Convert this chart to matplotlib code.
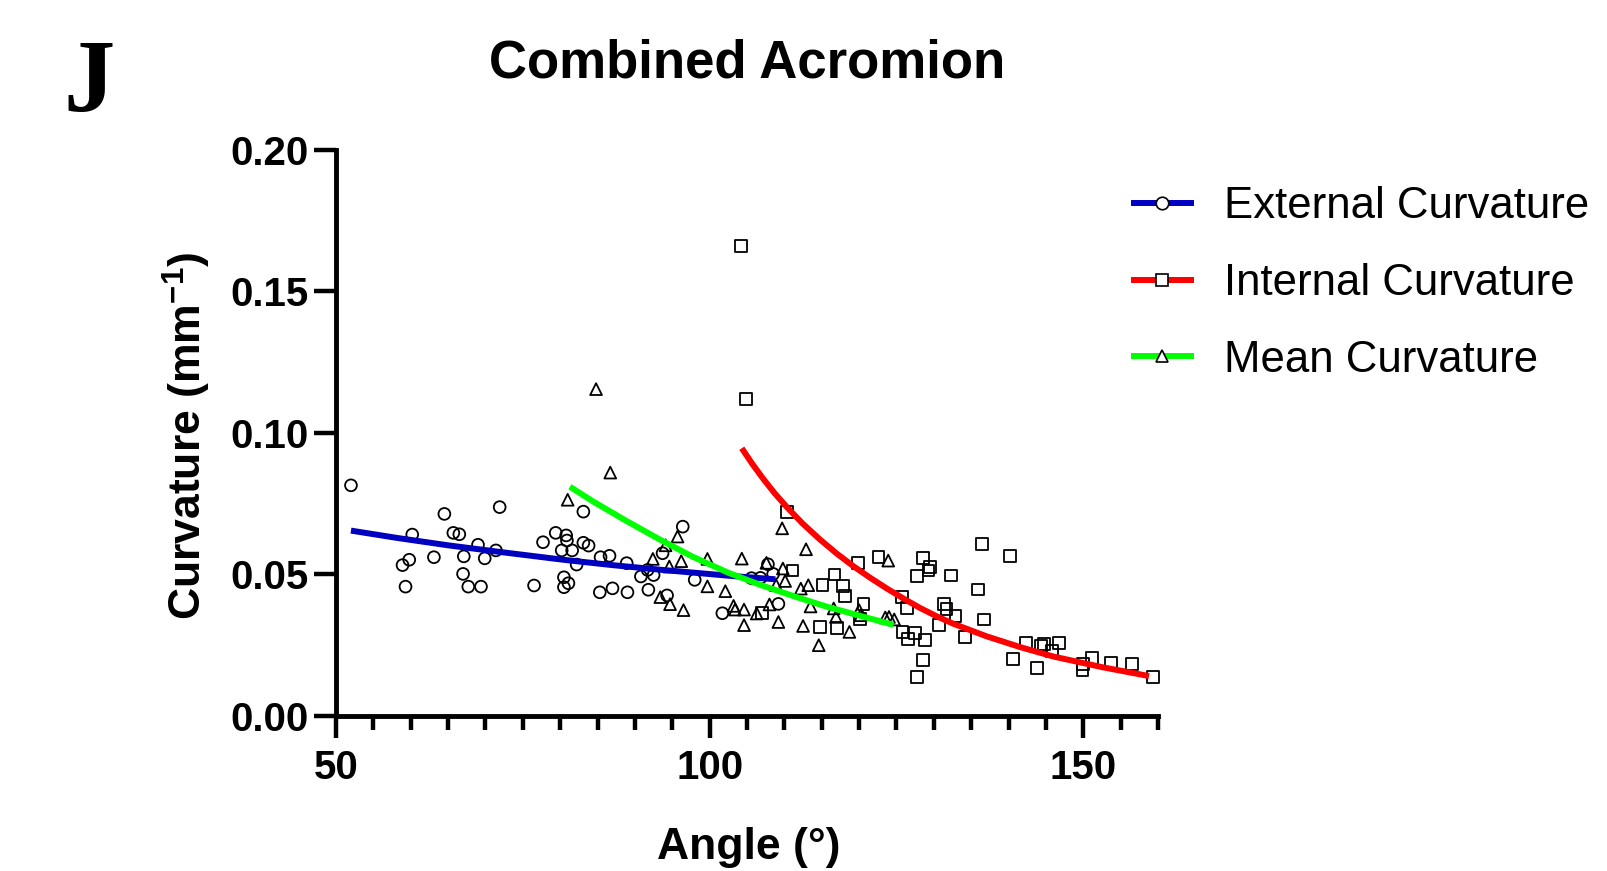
import numpy as np
import matplotlib
matplotlib.use('Agg')
import matplotlib.pyplot as plt
from matplotlib.lines import Line2D
from matplotlib.ticker import MultipleLocator

plt.rcParams['font.family'] = ['Liberation Sans', 'DejaVu Sans']
plt.rcParams['mathtext.fontset'] = 'custom'
plt.rcParams['mathtext.rm'] = 'Liberation Sans:bold'
plt.rcParams['mathtext.default'] = 'rm'

# external curvature (circles)
ext_x = [52.0, 58.9, 59.3, 59.8, 60.2, 63.1, 64.5, 65.7, 66.5, 67.0, 67.1, 67.7,
         69.0, 69.4, 69.9, 71.4, 71.9, 76.5, 77.7, 79.4, 80.2, 80.5, 80.5, 80.8,
         80.9, 81.1, 81.6, 82.2, 83.1, 83.1, 83.8, 85.3, 85.4, 86.6, 87.0, 88.9,
         89.0, 90.8, 91.7, 91.8, 92.5, 93.7, 94.3, 96.4, 98.0, 101.7, 105.6,
         106.8, 107.8, 108.5, 109.2]
ext_y = [0.0815, 0.0533, 0.0457, 0.0552, 0.0641, 0.0561, 0.0714, 0.0647, 0.0642,
         0.0502, 0.0564, 0.0457, 0.0605, 0.0457, 0.0557, 0.0585, 0.0738, 0.0461,
         0.0614, 0.0647, 0.0585, 0.0490, 0.0455, 0.0638, 0.0620, 0.0469, 0.0585,
         0.0535, 0.0722, 0.0612, 0.0602, 0.0437, 0.0561, 0.0566, 0.0451, 0.0540,
         0.0437, 0.0493, 0.0516, 0.0446, 0.0498, 0.0575, 0.0426, 0.0669, 0.0481,
         0.0363, 0.0487, 0.0488, 0.0536, 0.0502, 0.0396]

# internal curvature (squares)
int_x = [104.2, 104.9, 107.0, 110.3, 111.1, 114.8, 115.1, 116.7, 117.0, 117.8,
         118.1, 119.9, 120.1, 120.6, 122.6, 125.7, 126.4, 125.8, 126.5, 127.5,
         128.8, 128.5, 127.8, 127.7, 128.5, 129.3, 129.5, 132.3, 130.7, 131.4,
         131.7, 132.9, 134.2, 135.9, 136.4, 136.7, 140.2, 140.6, 142.3, 143.8,
         144.3, 144.7, 145.8, 146.8, 149.9, 150.0, 151.2, 153.7, 156.5, 159.3]
int_y = [0.1662, 0.1119, 0.0363, 0.0722, 0.0514, 0.0314, 0.0464, 0.0500, 0.0310,
         0.0458, 0.0423, 0.0540, 0.0343, 0.0396, 0.0561, 0.0420, 0.0382, 0.0297,
         0.0271, 0.0294, 0.0268, 0.0199, 0.0139, 0.0494, 0.0557, 0.0514, 0.0526,
         0.0496, 0.0322, 0.0395, 0.0379, 0.0352, 0.0279, 0.0447, 0.0609, 0.0341,
         0.0564, 0.0200, 0.0259, 0.0170, 0.0246, 0.0255, 0.0229, 0.0258, 0.0162,
         0.0185, 0.0205, 0.0186, 0.0184, 0.0139]

# mean curvature (triangles)
mean_x = [81.0, 84.8, 86.7, 92.4, 93.4, 94.1, 94.6, 94.7, 95.7, 96.2, 96.5, 99.7,
          99.7, 102.1, 103.2, 103.4, 104.3, 104.6, 104.6, 106.3, 107.6, 108.0,
          108.9, 109.2, 109.7, 109.8, 110.1, 112.2, 112.5, 112.9, 113.2, 113.5,
          114.6, 116.6, 116.9, 118.7, 120.0, 120.2, 123.5, 123.9, 124.0, 124.7]
mean_y = [0.0764, 0.1155, 0.0860, 0.0555, 0.0420, 0.0603, 0.0528, 0.0395, 0.0634,
          0.0547, 0.0374, 0.0555, 0.0458, 0.0441, 0.0389, 0.0376, 0.0556, 0.0376,
          0.0321, 0.0362, 0.0541, 0.0394, 0.0462, 0.0332, 0.0663, 0.0521, 0.0477,
          0.0450, 0.0318, 0.0589, 0.0462, 0.0387, 0.0250, 0.0380, 0.0350, 0.0297,
          0.0374, 0.0356, 0.0348, 0.0549, 0.0350, 0.0341]

# fitted curves
ext_fit_x = [52.0, 58.2, 65.0, 71.5, 80.4, 87.0, 93.7, 102.8, 108.8]
ext_fit_y = [0.0655, 0.0629, 0.0603, 0.0581, 0.0552, 0.0533, 0.0516, 0.0495, 0.0483]
int_fit_x = [104.3, 105.7, 107.2, 108.7, 110.3, 112.4, 114.7, 117.0, 119.3, 121.5,
             123.8, 126.0, 128.2, 130.4, 132.6, 137.0, 141.6, 146.0, 152.6, 158.8]
int_fit_y = [0.0946, 0.0891, 0.0837, 0.0787, 0.0739, 0.0681, 0.0625, 0.0574,
             0.0528, 0.0488, 0.0449, 0.0414, 0.0381, 0.0352, 0.0326, 0.0282,
             0.0243, 0.0210, 0.0172, 0.0141]
mean_fit_x = [81.3, 84.4, 88.8, 93.3, 97.7, 102.5, 106.8, 111.4, 115.7, 120.4, 124.6]
mean_fit_y = [0.0810, 0.0758, 0.0690, 0.0624, 0.0563, 0.0506, 0.0463, 0.0422,
              0.0386, 0.0352, 0.0322]

labels = ['External Curvature', 'Internal Curvature', 'Mean Curvature']
colors = ['#0000C0', '#FF0000', '#00FF00']
markers = ['o', 's', '^']

fig = plt.figure(figsize=(16.07, 8.71), dpi=100)
ax = fig.add_axes([0.2091, 0.178, 0.7206 - 0.2091, 0.8278 - 0.178])

pts = [(ext_x, ext_y), (int_x, int_y), (mean_x, mean_y)]
fits = [(ext_fit_x, ext_fit_y), (int_fit_x, int_fit_y), (mean_fit_x, mean_fit_y)]
for (px, py), m in zip(pts, markers):
    ax.scatter(px, py, marker=m, s=72, facecolors='none', edgecolors='black',
               linewidths=1.3, zorder=2, clip_on=False)
for (fx, fy), c in zip(fits, colors):
    ax.plot(fx, fy, color=c, lw=4.3, solid_capstyle='butt', solid_joinstyle='round', zorder=3)

ax.set_xlim(50, 160)
ax.set_ylim(0, 0.20)
ax.xaxis.set_major_locator(MultipleLocator(50))
ax.xaxis.set_minor_locator(MultipleLocator(5))
ax.yaxis.set_major_locator(MultipleLocator(0.05))
ax.yaxis.set_major_formatter(plt.FormatStrFormatter('%.2f'))

for s in ['top', 'right']:
    ax.spines[s].set_visible(False)
for s in ['left', 'bottom']:
    ax.spines[s].set_linewidth(3.5)
ax.tick_params(axis='both', which='major', length=16, width=3.2, labelsize=29, direction='out')
ax.tick_params(axis='x', which='minor', length=10, width=3.2, direction='out')
ax.tick_params(axis='x', which='major', pad=8)
ax.tick_params(axis='y', which='major', pad=4)
for t in ax.get_xticklabels() + ax.get_yticklabels():
    t.set_fontweight('bold')

fig.text(0.465, 1 - 64 / 871, 'Combined Acromion', fontsize=38, fontweight='bold',
         ha='center', va='center')
fig.text(89 / 1607, 1 - 86 / 871, 'J', fontsize=74, fontweight='bold',
         family=['Liberation Serif'], ha='center', va='center')
fig.text(186.5 / 1607, 1 - 436 / 871, 'Curvature (mm$^{-1}$)', fontsize=32,
         fontweight='bold', rotation=90, ha='center', va='center')
fig.text(749 / 1607, 1 - 847 / 871, 'Angle (°)', fontsize=32, fontweight='bold',
         ha='center', va='center')

handles = [Line2D([0], [0], color=c, lw=4.3, marker=m, markersize=9,
                  markerfacecolor='white', markeredgecolor='black', markeredgewidth=1.2)
           for c, m in zip(colors, markers)]
fig.legend(handles, labels, loc='upper left', bbox_to_anchor=(1134 / 1607, 1 - 186 / 871),
           bbox_transform=fig.transFigure, frameon=False, fontsize=31.5,
           handlelength=1.3, handletextpad=0.75, labelspacing=0.82,
           borderpad=0, borderaxespad=0)

fig.savefig('out.png', dpi=100)
